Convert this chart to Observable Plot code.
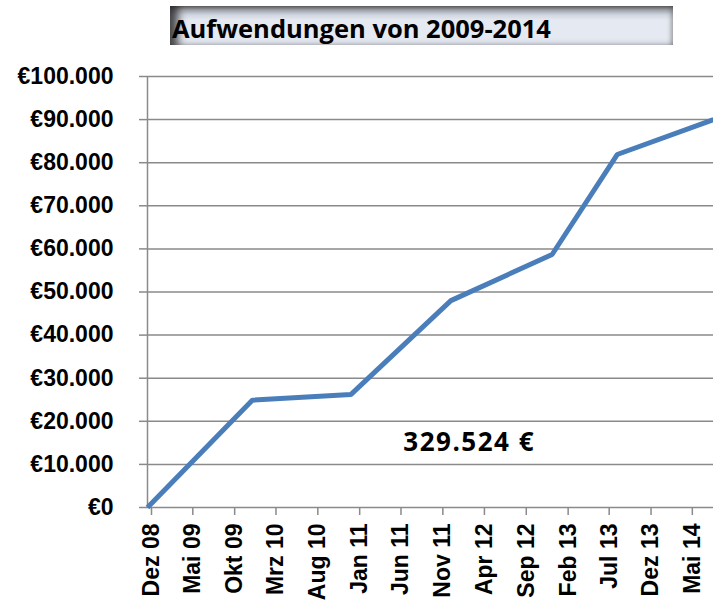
<!DOCTYPE html>
<html>
<head>
<meta charset="utf-8">
<script src="https://cdn.jsdelivr.net/npm/d3@7"></script>
<script src="https://cdn.jsdelivr.net/npm/@observablehq/plot@0.6"></script>
<style>
  body { margin: 0; background: #fff; }
  #wrap { position: relative; width: 713px; height: 600px; overflow: hidden; background: #fff; }
  #chart { position: absolute; left: 0; top: 0; }
  #title {
    position: absolute; left: 170px; top: 6px; width: 503px; height: 39px;
    box-sizing: border-box; padding: 5px 0 0 2px;
    background: linear-gradient(to bottom, #6a6a6a 0px, #a2a7ae 4px, #d0d6df 9px, #e5e9f1 14px, #e5e9f1 100%);
    box-shadow: inset 11px 0 8px -3px rgba(30,30,30,0.8), inset -4px 0 4px -2px rgba(80,80,80,0.5);
    font-family: "Open Sans", sans-serif; font-weight: 700; font-size: 25.5px; line-height: 34px;
    color: #000; white-space: nowrap;
  }
</style>
</head>
<body>
<div id="wrap">
  <div id="chart"></div>
  <div id="title">Aufwendungen von 2009-2014</div>
</div>
<script>
// ---- data ----
const tickDates = ["2008-12-01","2009-05-01","2009-10-01","2010-03-01","2010-08-01","2011-01-01","2011-06-01",
                   "2011-11-01","2012-04-01","2012-09-01","2013-02-01","2013-07-01","2013-12-01","2014-05-01"];
const tickLabels = ["Dez 08","Mai 09","Okt 09","Mrz 10","Aug 10","Jan 11","Jun 11",
                    "Nov 11","Apr 12","Sep 12","Feb 13","Jul 13","Dez 13","Mai 14"];
const pointDates = ["2008-12-01","2009-12-19","2010-12-14","2011-12-15","2012-12-19","2013-08-14","2014-08-01"];
const pointValues = [0, 24900, 26200, 48000, 58700, 81900, 90000];
const yTicks = [0,10000,20000,30000,40000,50000,60000,70000,80000,90000,100000];
const xDomain = ["2008-12-01","2014-08-01"];
const annotationText = ["329.524 €"];
const annotationDate = ["2012-02-20"];
const annotationValue = [15000];

// ---- build ----
const parse = s => new Date(s + "T00:00:00Z");
const points = pointDates.map((d, i) => ({date: parse(d), value: pointValues[i]}));
const ticks = tickDates.map(parse);
const annot = annotationText.map((t, i) => ({label: t, date: parse(annotationDate[i]), value: annotationValue[i]}));
const de = d3.formatLocale({decimal: ",", thousands: ".", grouping: [3], currency: ["€", ""]});
const fmtNum = de.format(",");
const fmtY = v => "€" + fmtNum(v);
const fmtX = d => tickLabels[ticks.findIndex(t => +t === +d)];
const gridColor = "#8a8a8a";

const chart = Plot.plot({
  width: 713, height: 600,
  marginTop: 76, marginBottom: 93, marginLeft: 147, marginRight: 0,
  style: {fontFamily: "'Liberation Sans', Arial, sans-serif", fontWeight: "bold", color: "#000", background: "transparent", overflow: "visible"},
  x: {type: "utc", domain: xDomain.map(parse)},
  y: {domain: [0, 100000]},
  marks: [
    Plot.gridY(yTicks, {stroke: gridColor, strokeOpacity: 1, strokeWidth: 1.5}),
    Plot.axisY(yTicks, {tickSize: 8, tickPadding: 26, tickFormat: fmtY, fontSize: 23, fontWeight: "bold",
                        stroke: gridColor, strokeWidth: 1.5, label: null}),
    Plot.ruleX([parse(xDomain[0])], {y1: 0, y2: 100000, stroke: gridColor, strokeWidth: 1.5}),
    Plot.axisX(ticks, {tickSize: 8, tickPadding: 8, tickRotate: -90, tickFormat: fmtX, fontSize: 23, fontWeight: "bold",
                       stroke: gridColor, strokeWidth: 1.5, label: null, dx: 4}),
    Plot.line(points, {x: "date", y: "value", stroke: "#4a7ebb", strokeWidth: 5,
                       strokeLinejoin: "miter", strokeLinecap: "butt"}),
    Plot.text(annot, {x: "date", y: "value", text: "label", fontFamily: "Open Sans", fontWeight: "bold",
                      fontSize: 26, fill: "#000"})
  ]
});
document.getElementById("chart").appendChild(chart);
chart.querySelectorAll("text").forEach(t => {
  if (annotationText.includes(t.textContent)) t.style.letterSpacing = "1.5px";
});
</script>
</body>
</html>
